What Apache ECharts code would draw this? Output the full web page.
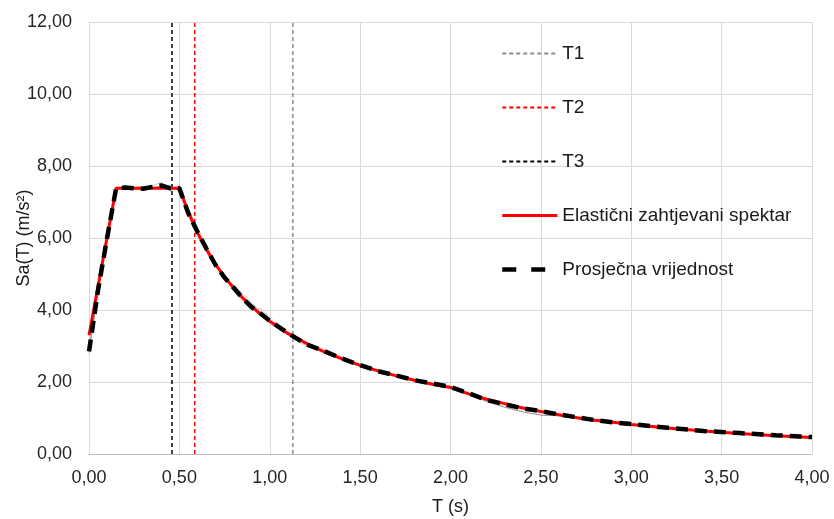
<!DOCTYPE html>
<html>
<head>
<meta charset="utf-8">
<script src="https://cdn.jsdelivr.net/npm/echarts@6/dist/echarts.min.js"></script>
<style>
html,body{margin:0;padding:0;background:#fff;}
#chart{width:834px;height:519px;}
</style>
</head>
<body>
<div id="chart"></div>
<script>
// Period values (s)
var periods = [0,0.05,0.1,0.15,0.2,0.25,0.3,0.35,0.4,0.45,0.5,0.55,0.6,0.65,0.7,0.75,0.8,0.85,0.9,0.95,1.0,1.1,1.2,1.3,1.4,1.5,1.6,1.7,1.8,1.9,2.0,2.1,2.2,2.3,2.4,2.5,2.6,2.7,2.8,2.9,3.0,3.2,3.4,3.6,3.8,4.0];
// Elastic required spectrum
var elasticSpectrum = [3.30,4.66,6.02,7.38,7.38,7.38,7.38,7.38,7.38,7.38,7.38,6.71,6.15,5.68,5.27,4.92,4.61,4.34,4.10,3.88,3.69,3.35,3.08,2.84,2.64,2.46,2.31,2.17,2.05,1.94,1.85,1.67,1.52,1.40,1.28,1.18,1.09,1.01,0.94,0.88,0.82,0.72,0.64,0.57,0.51,0.46];
// Average value
var averageSpectrum = [2.85,4.55,6.00,7.38,7.40,7.38,7.37,7.42,7.46,7.38,7.38,6.68,6.17,5.70,5.25,4.90,4.62,4.33,4.08,3.90,3.70,3.36,3.05,2.86,2.65,2.47,2.30,2.18,2.05,1.96,1.86,1.69,1.50,1.38,1.27,1.19,1.10,1.02,0.94,0.88,0.83,0.73,0.64,0.58,0.52,0.47];
// Individual record spectra (thin grey)
var record1 = [2.90,4.60,6.05,7.35,7.42,7.36,7.40,7.45,7.55,7.30,7.50,6.80,6.30,5.80,5.30,4.85,4.70,4.45,4.20,3.95,3.60,3.40,3.10,2.90,2.70,2.50,2.32,2.20,2.07,1.98,1.88,1.70,1.52,1.40,1.30,1.20,1.11,1.03,0.95,0.89,0.84,0.74,0.65,0.58,0.52,0.47];
var record2 = [2.80,4.50,5.95,7.40,7.38,7.42,7.35,7.40,7.45,7.45,7.30,6.60,6.05,5.60,5.20,4.95,4.55,4.25,4.00,4.05,3.80,3.30,3.00,2.82,2.62,2.44,2.28,2.16,2.03,1.94,1.86,1.68,1.48,1.36,1.25,1.18,1.09,1.01,0.93,0.87,0.82,0.72,0.63,0.57,0.51,0.46];
var record3 = [2.85,4.55,6.00,7.38,7.40,7.37,7.36,7.40,7.42,7.40,7.35,6.65,6.15,5.70,5.25,4.90,4.60,4.30,4.05,3.85,3.70,3.35,3.05,2.85,2.63,2.47,2.30,2.17,2.04,1.95,1.84,1.66,1.46,1.30,1.17,1.08,1.06,0.98,0.91,0.86,0.81,0.71,0.63,0.57,0.51,0.46];
// Characteristic periods
var periodNames = ['T1','T2','T3'];
var periodValues = [1.128,0.585,0.459];
var yRange = [0,12];
var seriesNames = ['Elastični zahtjevani spektar','Prosječna vrijednost'];

function pairs(xs, ys){ return xs.map(function(x,i){ return [x, ys[i]]; }); }
function fmt(v){ return v.toFixed(2).replace('.', ','); }

var FONT = 'Liberation Sans, Arial, sans-serif';
var periodColors = ['#8c8c8c','#ff0000','#000000'];

var series = [];
[record1, record2, record3].forEach(function(r, i){
  series.push({
    name: 'rec' + (i+1), type: 'line', data: pairs(periods, r), symbol: 'none',
    lineStyle: {color: i === 2 ? '#8a8a8a' : '#cccccc', width: 1}, z: 1, silent: true
  });
});
periodNames.forEach(function(n, i){
  series.push({
    name: n, type: 'line', symbol: 'none',
    data: [[periodValues[i], yRange[0]], [periodValues[i], yRange[1]]],
    lineStyle: {color: periodColors[i], width: 1.5, type: [4,3]},
    itemStyle: {color: periodColors[i]}, z: 2
  });
});
series.push({
  name: seriesNames[0], type: 'line', symbol: 'none', data: pairs(periods, elasticSpectrum),
  lineStyle: {color: '#ff0000', width: 3}, itemStyle: {color: '#ff0000'}, z: 3
});
series.push({
  name: seriesNames[1], type: 'line', symbol: 'none', data: pairs(periods, averageSpectrum),
  lineStyle: {color: '#000000', width: 4.5, type: [12,7]}, itemStyle: {color: '#000000'}, z: 4
});

var legendData = periodNames.map(function(n){ return {name: n}; });
legendData.push({name: seriesNames[0], lineStyle: {width: 3, color: '#ff0000'}});
legendData.push({name: seriesNames[1], lineStyle: {type: [14,15], width: 4.5, color: '#000000'}});

var chart = echarts.init(document.getElementById('chart'), null, {renderer: 'canvas'});
chart.setOption({
  animation: false,
  backgroundColor: '#ffffff',
  textStyle: {fontFamily: FONT},
  grid: {left: 89, right: 22, top: 22, bottom: 65, containLabel: false, outerBoundsMode: 'none'},
  legend: {
    orient: 'vertical', left: 495, top: 39,
    data: legendData,
    itemWidth: 55, itemHeight: 14, itemGap: 35,
    itemStyle: {opacity: 0},
    textStyle: {fontFamily: FONT, fontSize: 19, color: '#1a1a1a'}
  },
  xAxis: {
    type: 'value', min: 0, max: 4, interval: 0.5,
    name: 'T (s)', nameLocation: 'middle', nameGap: 44,
    nameTextStyle: {fontFamily: FONT, fontSize: 18, color: '#1a1a1a'},
    axisLine: {show: true, lineStyle: {color: '#bfbfbf', width: 1}},
    axisTick: {show: false},
    axisLabel: {formatter: fmt, fontSize: 18, color: '#262626', margin: 15, fontFamily: FONT},
    splitLine: {show: true, lineStyle: {color: '#d9d9d9', width: 1}}
  },
  yAxis: {
    type: 'value', min: yRange[0], max: yRange[1], interval: 2,
    name: 'Sa(T) (m/s²)', nameLocation: 'middle', nameGap: 56, nameRotate: 90,
    nameMoveOverlap: false,
    nameTextStyle: {fontFamily: FONT, fontSize: 18, color: '#1a1a1a'},
    axisLine: {show: true, lineStyle: {color: '#d9d9d9', width: 1}},
    axisTick: {show: false},
    axisLabel: {formatter: fmt, fontSize: 18, color: '#262626', margin: 17, fontFamily: FONT},
    splitLine: {show: true, lineStyle: {color: '#d9d9d9', width: 1}}
  },
  series: series
});
</script>
</body>
</html>
